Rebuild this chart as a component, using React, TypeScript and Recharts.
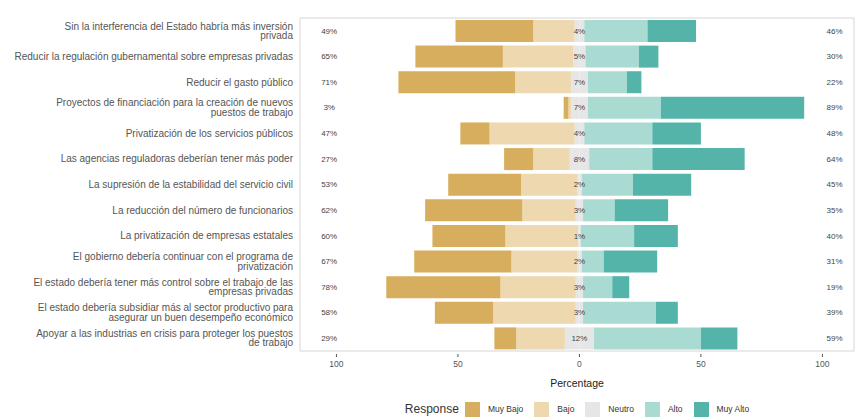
import React from "react";
import {
  BarChart,
  Bar,
  XAxis,
  YAxis,
  Legend,
  ReferenceDot,
  ReferenceArea,
} from "recharts";

const items = [
  "Sin la interferencia del Estado habría más inversión\nprivada",
  "Reducir la regulación gubernamental sobre empresas privadas",
  "Reducir el gasto público",
  "Proyectos de financiación para la creación de nuevos\npuestos de trabajo",
  "Privatización de los servicios públicos",
  "Las agencias reguladoras deberían tener más poder",
  "La supresión de la estabilidad del servicio civil",
  "La reducción del número de funcionarios",
  "La privatización de empresas estatales",
  "El gobierno debería continuar con el programa de\nprivatización",
  "El estado debería tener más control sobre el trabajo de las\nempresas privadas",
  "El estado debería subsidiar más al sector productivo para\nasegurar un buen desempeño económico",
  "Apoyar a las industrias en crisis para proteger los puestos\nde trabajo",
];

const muyBajo = [32, 36, 48, 2, 12, 12, 30, 40, 30, 40, 47, 24, 9];
const bajo = [17, 29, 23, 1, 35, 15, 23, 22, 30, 27, 31, 34, 20];
const neutro = [4, 5, 7, 7, 4, 8, 2, 3, 1, 2, 3, 3, 12];
const alto = [26, 22, 16, 30, 28, 26, 21, 13, 22, 9, 12, 30, 44];
const muyAlto = [20, 8, 6, 59, 20, 38, 24, 22, 18, 22, 7, 9, 15];

const levels = ["Muy Bajo", "Bajo", "Neutro", "Alto", "Muy Alto"];
const colors = ["#D7AE5E", "#EDD8B0", "#E6E6E6", "#A9DBD3", "#55B4AA"];
const xTicks = [-100, -50, 0, 50, 100];

const data = items.map((item, i) => ({
  item,
  nL: -neutro[i] / 2,
  nR: neutro[i] / 2,
  bajo: -bajo[i],
  alto: alto[i],
  muyBajo: -muyBajo[i],
  muyAlto: muyAlto[i],
  lowPct: muyBajo[i] + bajo[i],
  neuPct: neutro[i],
  highPct: alto[i] + muyAlto[i],
}));

const FONT = "'Liberation Sans', Arial, Helvetica, sans-serif";

const YTick = (props: any) => {
  const { x, y, payload } = props;
  const lines = String(payload.value).split("\n");
  const lh = 9.4;
  const start = -((lines.length - 1) * lh) / 2;
  return (
    <text
      x={x}
      y={y}
      textAnchor="end"
      fontSize={10}
      fill="#555555"
      fontFamily={FONT}
    >
      {lines.map((l, k) => (
        <tspan key={k} x={x} dy={k === 0 ? start + 3.5 : lh}>
          {l}
        </tspan>
      ))}
    </text>
  );
};

const LegendContent = () => (
  <div
    style={{
      display: "flex",
      alignItems: "center",
      justifyContent: "center",
      height: 20,
      fontFamily: FONT,
      color: "#333",
    }}
  >
    <span style={{ fontSize: 12, marginRight: 6 }}>Response</span>
    {levels.map((lv, i) => (
      <span key={lv} style={{ display: "flex", alignItems: "center" }}>
        <span
          style={{
            display: "inline-block",
            width: 15,
            height: 15,
            background: colors[i],
            marginRight: 8,
          }}
        />
        <span style={{ fontSize: 8.5, marginRight: 11 }}>{lv}</span>
      </span>
    ))}
  </div>
);

export default function App() {
  return (
    <div style={{ position: "absolute", left: 0, top: 0 }}>
      <BarChart
        width={855}
        height={419}
        data={data}
        layout="vertical"
        stackOffset="sign"
        margin={{ top: 15, right: 1, bottom: 0, left: 0 }}
        barSize={22}
      >
        <XAxis
          type="number"
          domain={[-115, 113]}
          ticks={xTicks}
          tickFormatter={(v: number) => String(Math.abs(v))}
          axisLine={false}
          tickLine={{ stroke: "#555" }}
          tickSize={3}
          tickMargin={4}
          height={45}
          tick={{ fontSize: 8.5, fill: "#555555", fontFamily: FONT }}
          allowDataOverflow
          label={{
            value: "Percentage",
            position: "insideBottom",
            offset: 12,
            fontSize: 10.5,
            fill: "#222",
            fontFamily: FONT,
          }}
        />
        <YAxis
          type="category"
          dataKey="item"
          width={300}
          axisLine={false}
          tickLine={false}
          tickSize={0}
          tickMargin={7}
          interval={0}
          padding={{ top: 3, bottom: 3 }}
          tick={<YTick />}
        />
        <ReferenceArea
          x1={-115}
          x2={113}
          fill="none"
          stroke="#D6D6D6"
          strokeWidth={1}
          ifOverflow="visible"
        />
        <Bar dataKey="nL" stackId="a" fill={colors[2]} isAnimationActive={false} />
        <Bar dataKey="nR" stackId="a" fill={colors[2]} isAnimationActive={false} />
        <Bar dataKey="bajo" stackId="a" fill={colors[1]} isAnimationActive={false} />
        <Bar dataKey="alto" stackId="a" fill={colors[3]} isAnimationActive={false} />
        <Bar dataKey="muyBajo" stackId="a" fill={colors[0]} isAnimationActive={false} />
        <Bar dataKey="muyAlto" stackId="a" fill={colors[4]} isAnimationActive={false} />
        {data.map((d) => (
          <ReferenceDot
            key={"l" + d.item}
            x={-103}
            y={d.item}
            r={0}
            fill="none"
            stroke="none"
            label={{ value: d.lowPct + "%", position: "center", fontSize: 8, fill: "#444", fontFamily: FONT }}
          />
        ))}
        {data.map((d) => (
          <ReferenceDot
            key={"n" + d.item}
            x={0}
            y={d.item}
            r={0}
            fill="none"
            stroke="none"
            label={{ value: d.neuPct + "%", position: "center", fontSize: 8, fill: "#444", fontFamily: FONT }}
          />
        ))}
        {data.map((d) => (
          <ReferenceDot
            key={"h" + d.item}
            x={105}
            y={d.item}
            r={0}
            fill="none"
            stroke="none"
            label={{ value: d.highPct + "%", position: "center", fontSize: 8, fill: "#444", fontFamily: FONT }}
          />
        ))}
        <Legend
          verticalAlign="bottom"
          content={<LegendContent />}
          wrapperStyle={{ left: 300, width: 565 }}
        />
      </BarChart>
    </div>
  );
}
